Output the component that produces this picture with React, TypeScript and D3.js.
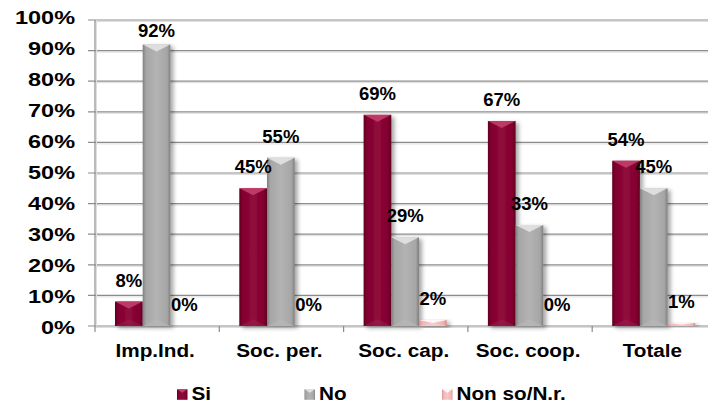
import React from "react";
import * as d3 from "d3";

const categories = ["Imp.Ind.", "Soc. per.", "Soc. cap.", "Soc. coop.", "Totale"];
const seriesNames = ["Si", "No", "Non so/N.r."];
const siValues = [8, 45, 69, 67, 54];
const noValues = [92, 55, 29, 33, 45];
const nonSoValues = [0, 0, 2, 0, 1];
const yTicks = [0, 10, 20, 30, 40, 50, 60, 70, 80, 90, 100];

const W = 708;
const H = 404;
const FONT = "'Liberation Sans', Arial, Helvetica, sans-serif";

const palettes = [
  { base: "#82002f", edge: "#5e0020", mid: "#8f0a3c", top: "#c8426f", bottom: "#9a1b49" },
  { base: "#a6a6a6", edge: "#7f7f7f", mid: "#b3b3b3", top: "#e6e6e6", bottom: "#b8b8b8" },
  { base: "#f0b3b3", edge: "#d98c8c", mid: "#f7c9c9", top: "#ffffff", bottom: "#f5d0d0" },
];

export default function App() {
  const x0 = 95;
  const catW = 124.3;
  const yScale = d3.scaleLinear().domain([0, 100]).range([326, 20]);
  const xCat = d3
    .scaleBand<string>()
    .domain(categories)
    .range([x0, x0 + catW * categories.length])
    .padding(0);
  const xSeries = d3
    .scaleBand<string>()
    .domain(seriesNames)
    .range([20, 20 + 27.7 * 3])
    .padding(0);
  const seriesValues = [siValues, noValues, nonSoValues];
  const bw = xSeries.bandwidth();
  const right = W;
  const legendBase = 400.3;

  return (
    <svg
      width={W}
      height={H}
      style={{ position: "absolute", left: 0, top: 0, display: "block", background: "#fff" }}
      fontFamily={FONT}
    >
      <defs>
        <filter id="shadow" x="-30%" y="-10%" width="170%" height="130%">
          <feDropShadow dx="3" dy="2" stdDeviation="2" floodColor="#000" floodOpacity="0.35" />
        </filter>
        {palettes.map((p, i) => (
          <linearGradient key={i} id={`grad${i}`} x1="0" x2="1" y1="0" y2="0">
            <stop offset="0" stopColor={p.edge} />
            <stop offset="0.12" stopColor={p.base} />
            <stop offset="0.5" stopColor={p.mid} />
            <stop offset="0.88" stopColor={p.base} />
            <stop offset="1" stopColor={p.edge} />
          </linearGradient>
        ))}
      </defs>
      <rect x={0} y={0} width={W} height={H} fill="#fff" />

      {/* gridlines */}
      {yTicks.map((t) => (
        <g key={t}>
          <line x1={x0} x2={right} y1={yScale(t) + 1.5} y2={yScale(t) + 1.5} stroke="#dedede" strokeWidth={1} />
          <line x1={88} x2={right} y1={yScale(t)} y2={yScale(t)} stroke="#8c8c8c" strokeWidth={1.2} />
        </g>
      ))}
      {/* y axis */}
      <line x1={x0 + 1.5} x2={x0 + 1.5} y1={20} y2={326} stroke="#dedede" strokeWidth={1} />
      <line x1={x0} x2={x0} y1={20} y2={332} stroke="#8c8c8c" strokeWidth={1.2} />
      {/* category ticks */}
      {categories.map((c) => {
        const cx = (xCat(c) as number) + catW;
        return <line key={c + "t"} x1={cx} x2={cx} y1={326} y2={332} stroke="#8c8c8c" strokeWidth={1.2} />;
      })}

      {/* y tick labels */}
      {yTicks.map((t) => (
        <g key={"l" + t} transform={`translate(75,${yScale(t) + 8.2 - (t / 100) * 4}) scale(1.27,1)`}>
          <text x={0} y={0} textAnchor="end" fontSize={18.5} fontWeight="bold" fill="#000">
            {t + "%"}
          </text>
        </g>
      ))}

      {/* bars */}
      {categories.map((c, ci) => (
        <g key={c} transform={`translate(${xCat(c)},0)`}>
          {seriesNames.map((s, si) => {
            const v = seriesValues[si][ci];
            if (v <= 0) return null;
            const bx = xSeries(s) as number;
            const by = yScale(v);
            const bh = yScale(0) - by;
            const p = palettes[si];
            const d = Math.min(7, bh / 2);
            return (
              <g key={s}>
                <rect x={bx} y={by} width={bw} height={bh} fill={`url(#grad${si})`} filter="url(#shadow)" />
                <polygon
                  points={`${bx},${by} ${bx + bw},${by} ${bx + bw / 2},${by + d}`}
                  fill={p.top}
                  opacity={0.85}
                />
                <polygon
                  points={`${bx},${by + bh} ${bx + bw},${by + bh} ${bx + bw / 2},${by + bh - d}`}
                  fill={p.bottom}
                  opacity={0.6}
                />
              </g>
            );
          })}
        </g>
      ))}

      {/* data labels */}
      {categories.map((c, ci) =>
        seriesNames.map((s, si) => {
          const v = seriesValues[si][ci];
          const cx = (xCat(c) as number) + (xSeries(s) as number) + bw / 2;
          const center = Math.max(yScale(v) - 21.5, 30);
          return (
            <text
              key={c + s}
              x={cx}
              y={center + 6.6}
              textAnchor="middle"
              fontSize={18.5}
              fontWeight="bold"
              fill="#000"
            >
              {v + "%"}
            </text>
          );
        })
      )}

      {/* category labels */}
      {categories.map((c) => (
        <g key={"c" + c} transform={`translate(${(xCat(c) as number) + catW / 2 - 2},356.7) scale(1.12,1)`}>
          <text x={0} y={0} textAnchor="middle" fontSize={18.5} fontWeight="bold" fill="#000">
            {c}
          </text>
        </g>
      ))}

      {/* legend */}
      {seriesNames.map((s, si) => {
        const lx = [177, 304.5, 442][si];
        const p = palettes[si];
        const ly = legendBase - 11;
        return (
          <g key={"lg" + s}>
            <rect x={lx} y={ly} width={10.5} height={10.5} fill={`url(#grad${si})`} />
            <polygon points={`${lx},${ly} ${lx + 10.5},${ly} ${lx + 5.25},${ly + 3.5}`} fill={p.top} opacity={0.9} />
            <g transform={`translate(${lx + 14.5},${legendBase}) scale(1.12,1)`}>
              <text x={0} y={0} fontSize={18.5} fontWeight="bold" fill="#000">
                {s}
              </text>
            </g>
          </g>
        );
      })}
    </svg>
  );
}
